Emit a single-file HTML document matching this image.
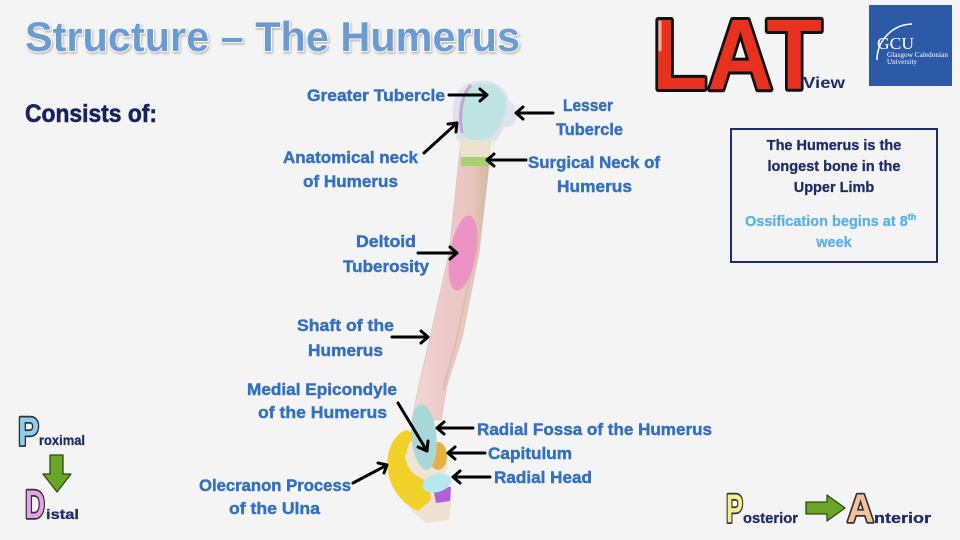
<!DOCTYPE html>
<html><head><meta charset="utf-8">
<style>
html,body{margin:0;padding:0;background:#f4f4f4;}
svg{display:block;}
text{font-family:"Liberation Sans",Arial,sans-serif;font-weight:bold;}
.lb{fill:#3470c0;font-size:17px;stroke:#3470c0;stroke-width:0.45;}
.ar{stroke:#000;stroke-width:3;fill:none;stroke-linecap:round;stroke-linejoin:round;}
.big{stroke:#333;stroke-width:3.5;stroke-linejoin:round;paint-order:stroke;}
</style></head>
<body>
<svg width="960" height="540" viewBox="0 0 960 540" xmlns="http://www.w3.org/2000/svg">
<defs>
  <filter id="sh" x="-5%" y="-20%" width="110%" height="150%">
    <feDropShadow dx="1" dy="1.5" stdDeviation="1" flood-color="#888" flood-opacity="0.6"/>
  </filter>
  <linearGradient id="shaft" x1="0" y1="0" x2="1" y2="0">
    <stop offset="0" stop-color="#f1d8d6"/>
    <stop offset="0.45" stop-color="#edc8c8"/>
    <stop offset="0.75" stop-color="#e8c6be"/>
    <stop offset="1" stop-color="#cdb39c"/>
  </linearGradient>
</defs>
<rect width="960" height="540" fill="#f4f4f4"/>

<!-- Title -->
<text x="25" y="51" font-size="42" textLength="495" lengthAdjust="spacingAndGlyphs" fill="#6c9bd2" stroke="#ffffff" stroke-width="2" paint-order="stroke" filter="url(#sh)">Structure – The Humerus</text>
<text x="25" y="122" font-size="25" textLength="132" lengthAdjust="spacingAndGlyphs" fill="#15235e" stroke="#15235e" stroke-width="0.6">Consists of:</text>

<!-- LAT logo -->
<text x="652" y="89" font-size="100" textLength="170" lengthAdjust="spacingAndGlyphs" fill="#e8321f" stroke="#111" stroke-width="6" stroke-linejoin="round" paint-order="stroke">LAT</text>
<path d="M660,22 L660,50" stroke="#f8b0a8" stroke-width="3" stroke-linecap="round"/>
<text x="803" y="88" font-size="16" textLength="42" lengthAdjust="spacingAndGlyphs" fill="#1f2d6a">View</text>

<!-- GCU logo -->
<rect x="869" y="5" width="83" height="81" fill="#2d5aa6"/>
<path d="M877,60 A36,36 0 0 1 912,24" stroke="#fff" stroke-width="1.5" fill="none"/>
<text x="877" y="49" font-size="17" textLength="37" lengthAdjust="spacingAndGlyphs" fill="#fff" style="font-family:'Liberation Serif',serif;font-weight:normal">GCU</text>
<text x="887" y="57" font-size="7" textLength="61" lengthAdjust="spacingAndGlyphs" fill="#fff" style="font-family:'Liberation Serif',serif;font-weight:normal">Glasgow Caledonian</text>
<text x="887" y="64" font-size="7" textLength="30" lengthAdjust="spacingAndGlyphs" fill="#fff" style="font-family:'Liberation Serif',serif;font-weight:normal">University</text>

<!-- Info box -->
<rect x="731" y="129" width="206" height="133" fill="none" stroke="#1f2d6a" stroke-width="2"/>
<g text-anchor="middle" fill="#1f2d6a" stroke="#1f2d6a" stroke-width="0.3" font-size="14.5">
<text x="834" y="150">The Humerus is the</text>
<text x="834" y="171">longest bone in the</text>
<text x="834" y="192">Upper Limb</text>
</g>
<text x="745" y="226" font-size="14.5" fill="#5cb0ea" stroke="#5cb0ea" stroke-width="0.3">Ossification begins at 8<tspan font-size="9" dy="-6">th</tspan></text>
<text x="834" y="247" font-size="14.5" fill="#5cb0ea" stroke="#5cb0ea" stroke-width="0.3" text-anchor="middle">week</text>

<!-- Bone: shaft -->
<path d="M461,140 L449,253 L430,338 L419,385 L412,420 L441,420 L447,385 L462,338 L479,253 L492,140 Z" fill="url(#shaft)" stroke="#e0c4bc" stroke-width="0.8"/>
<path d="M488,150 L475,253 L457,338 L443,390" stroke="#d8c0aa" stroke-width="2" fill="none"/>
<!-- neck -->
<path d="M458,128 L498,128 L491,160 L461,160 Z" fill="#eee2cf"/>
<path d="M497,118 L490,160" stroke="#fff" stroke-width="1.4"/>
<!-- head -->
<path d="M457,140 C450,120 450,94 465,85 C478,77 501,80 507,95 C513,108 506,126 496,141 Z" fill="#e0e0ee"/>
<ellipse cx="507" cy="114" rx="10" ry="13" fill="#dfe3f0"/>
<path d="M461,135 C457,118 457,96 467,88 C480,80 501,84 505,97 C509,110 501,127 491,137 C481,142 468,141 461,135 Z" fill="#bfe4e1"/>
<path d="M471,85 C461,96 459,115 462,133" stroke="#c9a0d8" stroke-width="3" fill="none"/>
<!-- surgical neck band -->
<path d="M461,157 L490,157 L489,166 L461,166 Z" fill="#a8d070"/>
<!-- deltoid tuberosity -->
<ellipse cx="463" cy="253" rx="13" ry="38" transform="rotate(10 463 253)" fill="#ea93c4"/>

<!-- Elbow -->
<path d="M411,490 L452,494 L449,520 L426,523 L409,508 Z" fill="#f0e2d2"/>
<ellipse cx="425" cy="462" rx="23" ry="23" fill="#efe5d5"/>
<path d="M406,430 C391,436 384,456 389,477 C394,494 405,505 418,511 L431,500 L429,482 C418,478 410,470 408,460 C405,450 408,442 419,435 Z" fill="#f2d22a"/>
<path d="M405,455 C406,470 418,480 430,480 L432,470 C420,468 412,460 412,450 Z" fill="#efe5d5"/>
<ellipse cx="438" cy="456" rx="9" ry="14" fill="#e8b040"/>
<ellipse cx="424" cy="437" rx="12.5" ry="33" transform="rotate(-5 424 437)" fill="#a8d8d8"/>
<path d="M433,487 L451,487 L450,501 L436,503 Z" fill="#b060d8"/>
<ellipse cx="437" cy="483" rx="15" ry="9" transform="rotate(-15 437 483)" fill="#b5e8f0"/>

<!-- Arrows -->
<g class="ar">
  <path d="M449,95 L487,95 M480,89 L487,95 L480,101"/>
  <path d="M553,113 L516,113 M523,107 L516,113 L523,119"/>
  <path d="M424,153 L457,123 M448,124 L457,123 L456,132"/>
  <path d="M526,160 L487,160 M494,154 L487,160 L494,166"/>
  <path d="M418,253 L457,253 M450,247 L457,253 L450,259"/>
  <path d="M392,337 L428,337 M421,331 L428,337 L421,343"/>
  <path d="M398,403 L427,451 M418,447 L427,451 L428,441"/>
  <path d="M473,428 L437,428 M444,422 L437,428 L444,434"/>
  <path d="M485,453 L448,453 M455,447 L448,453 L455,459"/>
  <path d="M490,477 L453,477 M460,471 L453,477 L460,483"/>
  <path d="M353,483 L387,465 M378,463 L387,465 L384,473"/>
</g>

<!-- Labels -->
<text class="lb" x="307" y="101" textLength="138" lengthAdjust="spacingAndGlyphs">Greater Tubercle</text>
<text class="lb" x="563" y="111" textLength="50" lengthAdjust="spacingAndGlyphs">Lesser</text>
<text class="lb" x="556" y="135" textLength="67" lengthAdjust="spacingAndGlyphs">Tubercle</text>
<text class="lb" x="283" y="163" textLength="135" lengthAdjust="spacingAndGlyphs">Anatomical neck</text>
<text class="lb" x="303" y="187" textLength="95" lengthAdjust="spacingAndGlyphs">of Humerus</text>
<text class="lb" x="528" y="168" textLength="132" lengthAdjust="spacingAndGlyphs">Surgical Neck of</text>
<text class="lb" x="557" y="192" textLength="75" lengthAdjust="spacingAndGlyphs">Humerus</text>
<text class="lb" x="356" y="247" textLength="60" lengthAdjust="spacingAndGlyphs">Deltoid</text>
<text class="lb" x="343" y="272" textLength="86" lengthAdjust="spacingAndGlyphs">Tuberosity</text>
<text class="lb" x="297" y="331" textLength="97" lengthAdjust="spacingAndGlyphs">Shaft of the</text>
<text class="lb" x="308" y="356" textLength="75" lengthAdjust="spacingAndGlyphs">Humerus</text>
<text class="lb" x="247" y="395" textLength="150" lengthAdjust="spacingAndGlyphs">Medial Epicondyle</text>
<text class="lb" x="258" y="418" textLength="129" lengthAdjust="spacingAndGlyphs">of the Humerus</text>
<text class="lb" x="477" y="435" textLength="235" lengthAdjust="spacingAndGlyphs">Radial Fossa of the Humerus</text>
<text class="lb" x="488" y="459" textLength="84" lengthAdjust="spacingAndGlyphs">Capitulum</text>
<text class="lb" x="494" y="483" textLength="98" lengthAdjust="spacingAndGlyphs">Radial Head</text>
<text class="lb" x="199" y="491" textLength="152" lengthAdjust="spacingAndGlyphs">Olecranon Process</text>
<text class="lb" x="229" y="514" textLength="91" lengthAdjust="spacingAndGlyphs">of the Ulna</text>

<!-- Proximal / Distal -->
<text class="big" x="18" y="445" font-size="40" textLength="21" lengthAdjust="spacingAndGlyphs" fill="#8ecff0">P</text>
<text x="39" y="445" font-size="14" textLength="46" lengthAdjust="spacingAndGlyphs" fill="#1f2d6a" stroke="#1f2d6a" stroke-width="0.3">roximal</text>
<path d="M50,455 L63,455 L63,474 L71,474 L57,492 L43,474 L50,474 Z" fill="#6aa52a" stroke="#2d4a10" stroke-width="1.3" stroke-linejoin="round"/>
<text class="big" x="25" y="518" font-size="40" textLength="20" lengthAdjust="spacingAndGlyphs" fill="#e8a0e8">D</text>
<text x="46" y="519" font-size="14" textLength="33" lengthAdjust="spacingAndGlyphs" fill="#1f2d6a" stroke="#1f2d6a" stroke-width="0.3">istal</text>

<!-- Posterior -> Anterior -->
<text class="big" x="726" y="522" font-size="40" textLength="17" lengthAdjust="spacingAndGlyphs" fill="#f0f090">P</text>
<text x="743" y="523" font-size="15" textLength="55" lengthAdjust="spacingAndGlyphs" fill="#1f2d6a" stroke="#1f2d6a" stroke-width="0.3">osterior</text>
<path d="M806,502 L827,502 L827,495 L845,508 L827,521 L827,514 L806,514 Z" fill="#6aa52a" stroke="#2d4a10" stroke-width="1.3" stroke-linejoin="round"/>
<text class="big" x="847" y="522" font-size="40" textLength="27" lengthAdjust="spacingAndGlyphs" fill="#f5c0a0">A</text>
<text x="874" y="523" font-size="15" textLength="57" lengthAdjust="spacingAndGlyphs" fill="#1f2d6a" stroke="#1f2d6a" stroke-width="0.3">nterior</text>
</svg>
</body></html>
